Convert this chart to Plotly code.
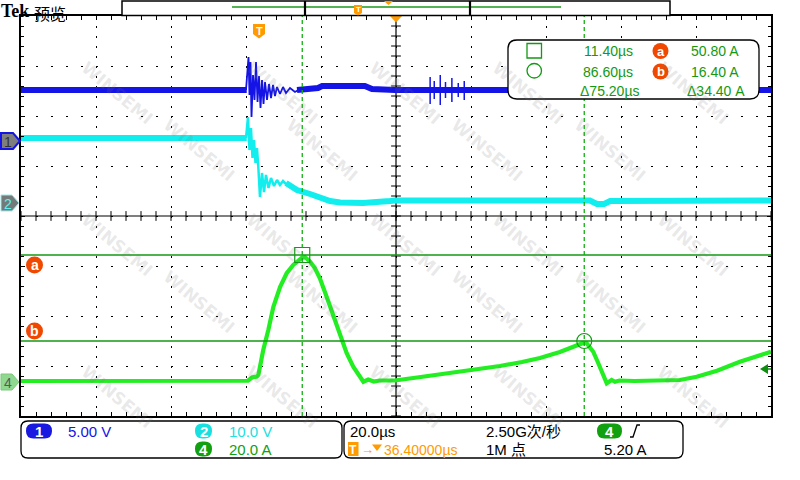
import plotly.graph_objects as go
import numpy as np

# ---------------- data ----------------
# time in µs relative to trigger; 20 µs/div, trigger-to-center 36.4 µs
T_LEFT, T_RIGHT = -63.6, 136.4

# CH4 current (A), 20 A/div
t_ch4 = [-63.6, -40, -20, -3.1, -2.0, -0.7, -0.3, 1.0, 2.35, 3.7, 5.5, 7.25, 9.0, 10.35, 11.25,
         12.1, 13.5, 14.8, 16.1, 17.9, 19.7, 21.5, 23.25, 25.0, 26.8, 27.7, 29.0, 30.5, 32.0,
         36.1, 43.0, 50.8, 57.0, 64.1, 70.0, 74.8, 80.1, 84.0, 86.3, 87.25, 89.0, 90.35, 91.7,
         92.6, 93.9, 94.8, 96.0, 100.0, 106.0, 112.1, 116.6, 122.0, 128.1, 132.0, 136.4]
i_ch4 = [0.4, 0.5, 0.4, 0.5, 1.8, 2.2, 2.8, 12.8, 20.8, 30.1, 38.1, 43.5, 46.8, 48.8, 49.6,
         50.0, 48.1, 45.5, 41.5, 34.1, 26.1, 18.1, 11.5, 6.1, 2.1, 0.1, 1.0, 0.2, 0.6,
         0.6, 2.0, 3.6, 5.0, 6.4, 8.0, 9.6, 12.0, 14.0, 15.6, 15.5, 12.1, 7.5, 2.1,
         -0.5, 0.8, 0.1, 0.6, 0.4, 0.6, 0.8, 2.1, 4.5, 8.1, 9.8, 12.1]

# CH1 voltage (V), 5 V/div — steady band and ringing detail
t_ch1_band = [-63.6, -3.4, None, 10.0, 15.6, 16.7, 28.1, 30.0, 36.1, 136.4]
v_ch1_band = [5.1, 5.1, None, 5.1, 5.3, 5.5, 5.5, 5.2, 5.1, 5.1]
t_ch1_ring = [-3.6, -3.2, -2.93, -2.67, -2.4, -2.13, -1.73, -1.33, -0.93, -0.53, -0.13, 0.27,
              0.67, 1.07, 1.47, 2.0, 2.53, 3.07, 3.6, 4.13, 4.67, 5.47, 6.27, 7.07, 8.13,
              9.47, 10.8]
v_ch1_ring = [5.1, 7.1, 8.4, 4.6, 7.9, 2.4, 6.6, 4.1, 7.9, 3.9, 6.5, 3.3,
              6.1, 3.7, 5.9, 4.1, 5.7, 4.3, 5.6, 4.5, 5.4, 4.7, 5.4, 4.8, 5.3,
              4.9, 5.2]
t_ch1_spike = [45.5, 46.6, 48.2, 49.6, 51.3, 53.0, 54.6]
v_ch1_spike_hi = [6.4, 6.0, 6.6, 5.9, 6.3, 5.8, 6.0]
v_ch1_spike_lo = [3.7, 4.2, 3.6, 4.3, 3.9, 4.4, 4.1]

# CH2 voltage (V), 10 V/div
t_ch2_band = [-63.6, -3.4, None, 7.07, 10.0, 13.5, 16.1, 18.8, 21.5, 27.6, 34.8, 36.1,
              88.1, 90.0, 91.9, 93.5, 136.4]
v_ch2_band = [13.0, 13.0, None, 4.0, 2.6, 1.8, 1.0, 0.4, 0.1, 0.0, 0.4, 0.5,
              0.5, -0.2, -0.2, 0.4, 0.5]
t_ch2_ring = [-3.6, -3.07, -2.67, -2.27, -1.87, -1.47, -1.07, -0.67, -0.27, 0.13, 0.67, 1.2,
              1.73, 2.4, 3.07, 3.87, 4.67, 5.47, 6.27, 7.07]
v_ch2_ring = [13.0, 17.2, 10.6, 15.0, 9.0, 12.6, 8.0, 11.0, 6.6, 1.2, 6.0, 2.2,
              5.6, 3.0, 5.0, 3.4, 4.6, 3.6, 4.4, 3.8]

# cursors
cursor_t = [11.40, 86.60]
cursor_i = [50.80, 16.40]

# readouts
readout_rows = [("11.40µs", "50.80 A"), ("86.60µs", "16.40 A")]
delta_t, delta_i = "Δ75.20µs", "Δ34.40 A"

# ---------------- colours ----------------
C1 = "#1414E6"
C2 = "#12EEEE"
C4 = "#22EE22"
CUR = "#139913"
CURV = "#10B010"
ORANGE = "#FF9A00"
RED = "#F04800"

# ---------------- geometry helpers (pixel -> paper) ----------------
L, R, TOP, BOT = 21, 771, 16, 416
W, H = R - L, BOT - TOP


def PX(x):
    return (x - L) / W


def PY(y):
    return (BOT - y) / H


def path(pts):
    s = "M" + " L".join(f"{PX(x):.5f},{PY(y):.5f}" for x, y in pts) + " Z"
    return s


def rrect(x0, y0, x1, y1, r):
    def p(x, y):
        return f"{PX(x):.5f},{PY(y):.5f}"
    return (f"M{p(x0 + r, y0)} L{p(x1 - r, y0)} Q{p(x1, y0)} {p(x1, y0 + r)} "
            f"L{p(x1, y1 - r)} Q{p(x1, y1)} {p(x1 - r, y1)} L{p(x0 + r, y1)} "
            f"Q{p(x0, y1)} {p(x0, y1 - r)} L{p(x0, y0 + r)} Q{p(x0, y0)} {p(x0 + r, y0)} Z")


fig = go.Figure()

# CH2
fig.add_trace(go.Scatter(x=t_ch2_band, y=v_ch2_band, mode="lines", yaxis="y3",
                         line=dict(color=C2, width=6), hoverinfo="skip"))
fig.add_trace(go.Scatter(x=t_ch2_ring, y=v_ch2_ring, mode="lines", yaxis="y3",
                         line=dict(color=C2, width=2.5), hoverinfo="skip"))
# CH1
fig.add_trace(go.Scatter(x=t_ch1_band, y=v_ch1_band, mode="lines", yaxis="y2",
                         line=dict(color=C1, width=6), hoverinfo="skip"))
fig.add_trace(go.Scatter(x=t_ch1_ring, y=v_ch1_ring, mode="lines", yaxis="y2",
                         line=dict(color=C1, width=1.8), hoverinfo="skip"))
sx, sy = [], []
for t, hi, lo in zip(t_ch1_spike, v_ch1_spike_hi, v_ch1_spike_lo):
    sx += [t, t, None]
    sy += [hi, lo, None]
fig.add_trace(go.Scatter(x=sx, y=sy, mode="lines", yaxis="y2",
                         line=dict(color=C1, width=1.5), hoverinfo="skip"))
# CH4
fig.add_trace(go.Scatter(x=t_ch4, y=i_ch4, mode="lines",
                         line=dict(color=C4, width=4.2), hoverinfo="skip"))

# graticule centre lines with ticks
xc = (T_LEFT + T_RIGHT) / 2
ylo, yhi = -13.6, 146.4
yc = (ylo + yhi) / 2
fig.add_trace(go.Scatter(x=np.arange(T_LEFT, T_RIGHT + 0.01, 4.0), y=[yc] * 51, mode="markers",
                         marker=dict(symbol="line-ns", size=7, line=dict(width=1, color="black")),
                         hoverinfo="skip"))
fig.add_trace(go.Scatter(x=[xc] * 41, y=np.arange(ylo, yhi + 0.01, 4.0), mode="markers",
                         marker=dict(symbol="line-ew", size=7, line=dict(width=1, color="black")),
                         hoverinfo="skip"))

# cursor markers
fig.add_trace(go.Scatter(x=[cursor_t[0]], y=[cursor_i[0]], mode="markers",
                         marker=dict(symbol="square-open", size=15, color=CUR, line=dict(width=1.2)),
                         hoverinfo="skip"))
fig.add_trace(go.Scatter(x=[cursor_t[1]], y=[cursor_i[1]], mode="markers",
                         marker=dict(symbol="circle-open", size=15, color=CUR, line=dict(width=1.2)),
                         hoverinfo="skip"))

shapes = []
# centre lines
shapes.append(dict(type="line", xref="x", yref="y", x0=xc, x1=xc, y0=ylo, y1=yhi,
                   line=dict(color="black", width=1.2), layer="below"))
shapes.append(dict(type="line", xref="x", yref="y", x0=T_LEFT, x1=T_RIGHT, y0=yc, y1=yc,
                   line=dict(color="black", width=1.2), layer="below"))
# cursors
for ci in cursor_i:
    shapes.append(dict(type="line", xref="x", yref="y", x0=T_LEFT, x1=T_RIGHT, y0=ci, y1=ci,
                       line=dict(color=CUR, width=1.3)))
for ct in cursor_t:
    shapes.append(dict(type="line", xref="x", yref="y", x0=ct, x1=ct, y0=ylo, y1=yhi,
                       line=dict(color=CURV, width=1.3, dash="4px,3px")))

annotations = []


def text(x, y, s, color="black", size=15, anchor="left", family="Liberation Sans, Arial",
         bold=False, yanchor="middle"):
    if bold:
        s = f"<b>{s}</b>"
    annotations.append(dict(x=PX(x), y=PY(y), xref="paper", yref="paper", text=s,
                            showarrow=False, xanchor=anchor, yanchor=yanchor, borderpad=0,
                            font=dict(color=color, size=size, family=family)))


# watermark (kept fully inside the picture)
for row in range(0, 5):
    for col in range(0, 5):
        cx = 75 + col * 165 + (row % 2) * 82
        cy = 55 + row * 95
        if 45 <= cx <= 755 and 40 <= cy <= 440:
            annotations.append(dict(x=PX(cx), y=PY(cy), xref="paper", yref="paper",
                                    text="<b>WINSEMI</b>", showarrow=False, textangle=40,
                                    font=dict(color="rgba(120,120,120,0.16)", size=17,
                                              family="DejaVu Sans")))

# cursor labels a / b on the left
for lab, cy in (("a", 265), ("b", 331)):
    shapes.append(dict(type="circle", xref="paper", yref="paper", x0=PX(26), x1=PX(43),
                       y0=PY(cy - 8.5), y1=PY(cy + 8.5), fillcolor=RED, line=dict(width=0)))
    text(34.5, cy, lab, "white", 14, "center", bold=True)

# channel markers on the left
shapes.append(dict(type="path", xref="paper", yref="paper",
                   path=path([(1, 133), (13, 133), (20, 141), (13, 149), (1, 149)]),
                   fillcolor="#7E7E7E", line=dict(color=C1, width=2)))
text(8, 141.5, "1", "#333333", 14, "center")
shapes.append(dict(type="path", xref="paper", yref="paper",
                   path=path([(1, 195), (12, 195), (19, 203), (12, 211), (1, 211)]),
                   fillcolor="#737A7A", line=dict(color="#9FE8E8", width=1)))
text(8, 203.5, "2", "#5FF0F0", 14, "center")
shapes.append(dict(type="path", xref="paper", yref="paper",
                   path=path([(1, 374), (12, 374), (19, 382), (12, 390), (1, 390)]),
                   fillcolor="#8FD88F", line=dict(color="#7CC87C", width=1)))
text(8, 382.5, "4", "#5A5A5A", 14, "center")

# trigger level arrow (right)
shapes.append(dict(type="path", xref="paper", yref="paper",
                   path=path([(760, 369), (768, 364), (768, 374)]),
                   fillcolor="#0E8E0E", line=dict(width=0)))
shapes.append(dict(type="line", xref="paper", yref="paper", x0=PX(767), x1=PX(771),
                   y0=PY(369), y1=PY(369), line=dict(color="#0E8E0E", width=1.5)))

# trigger T marker and top triangle
shapes.append(dict(type="path", xref="paper", yref="paper",
                   path=path([(253, 24), (265, 24), (265, 34), (259, 38.5), (253, 34)]),
                   fillcolor=ORANGE, line=dict(width=0)))
text(259, 30.5, "T", "white", 11, "center", bold=True)
shapes.append(dict(type="path", xref="paper", yref="paper",
                   path=path([(390, 16), (402, 16), (396, 22.5)]),
                   fillcolor=ORANGE, line=dict(width=0)))

# top bar
text(0, 0, "Tek", "black", 18, "left", "Liberation Serif", bold=True, yanchor="top")
text(33, 0, "预览", "black", 16, "left", "Noto Sans CJK SC", yanchor="top")
shapes.append(dict(type="rect", xref="paper", yref="paper", x0=PX(122), x1=PX(670),
                   y0=PY(1), y1=PY(15.5), line=dict(color="black", width=1.5),
                   fillcolor="white"))
shapes.append(dict(type="line", xref="paper", yref="paper", x0=PX(232), x1=PX(561),
                   y0=PY(7), y1=PY(7), line=dict(color="#1A9A1A", width=1.3)))
for bx in (305, 470):
    shapes.append(dict(type="line", xref="paper", yref="paper", x0=PX(bx), x1=PX(bx),
                       y0=PY(1), y1=PY(15.5), line=dict(color="black", width=2.2)))
shapes.append(dict(type="path", xref="paper", yref="paper",
                   path=path([(354, 5), (362, 5), (362, 13), (358, 15.5), (354, 13)]),
                   fillcolor=ORANGE, line=dict(width=0)))
text(358, 9.5, "T", "white", 8, "center", bold=True)
shapes.append(dict(type="path", xref="paper", yref="paper",
                   path=path([(384, 1), (393, 1), (388.5, 5)]),
                   fillcolor=ORANGE, line=dict(width=0)))

# readout box
shapes.append(dict(type="path", xref="paper", yref="paper", path=rrect(508, 40, 759, 99, 9),
                   fillcolor="white", line=dict(color="black", width=1.3)))
shapes.append(dict(type="rect", xref="paper", yref="paper", x0=PX(527), x1=PX(541.5),
                   y0=PY(43.5), y1=PY(58), line=dict(color=CUR, width=1.3)))
shapes.append(dict(type="circle", xref="paper", yref="paper", x0=PX(527), x1=PX(541.5),
                   y0=PY(63.5), y1=PY(78), line=dict(color=CUR, width=1.3)))
for (ts, isv), cy, lab in zip(readout_rows, (51, 71.5), ("a", "b")):
    text(633.5, cy, ts, CUR, 14, "right")
    text(740, cy, isv, CUR, 14, "right")
    shapes.append(dict(type="circle", xref="paper", yref="paper", x0=PX(652.5), x1=PX(668.5),
                       y0=PY(cy - 8), y1=PY(cy + 8), fillcolor=RED, line=dict(width=0)))
    text(660.5, cy, lab, "white", 13, "center", bold=True)
text(639.5, 90.5, delta_t, CUR, 14, "right")
text(745.5, 90.5, delta_i, CUR, 14, "right")

# bottom status boxes
shapes.append(dict(type="path", xref="paper", yref="paper", path=rrect(21, 421, 342, 458, 7),
                   fillcolor="white", line=dict(color="black", width=1.3)))
shapes.append(dict(type="path", xref="paper", yref="paper", path=rrect(344, 421, 683, 458, 7),
                   fillcolor="white", line=dict(color="black", width=1.3)))


def pill(x0, x1, yc, color, label):
    shapes.append(dict(type="path", xref="paper", yref="paper",
                       path=rrect(x0, yc - 7.5, x1, yc + 7.5, 7.4), fillcolor=color,
                       line=dict(width=0)))
    text((x0 + x1) / 2, yc + 0.5, label, "white", 15, "center", bold=True)


pill(26, 52, 431, "#1818E0", "1")
text(67, 431, "5.00 V", C1, 15)
pill(195, 212, 431, "#18E0E0", "2")
text(228, 431, "10.0 V", "#20E0E0", 15)
pill(195, 212, 449, "#10A010", "4")
text(228, 449, "20.0 A", "#10A010", 15)

text(349, 431, "20.0µs", "black", 15)
shapes.append(dict(type="rect", xref="paper", yref="paper", x0=PX(348), x1=PX(358.5),
                   y0=PY(442), y1=PY(456), fillcolor=ORANGE, line=dict(width=0)))
text(353.2, 449.5, "T", "white", 12, "center", bold=True)
text(359.5, 449, "→", ORANGE, 13)
shapes.append(dict(type="path", xref="paper", yref="paper",
                   path=path([(372, 444.5), (382, 444.5), (377, 451)]),
                   fillcolor=ORANGE, line=dict(width=0)))
text(382.5, 449.5, "36.40000µs", ORANGE, 14)
text(485, 431, "2.50G次/秒", "black", 15, family="Liberation Sans, Noto Sans CJK SC")
text(485, 449, "1M 点", "black", 15, family="Liberation Sans, Noto Sans CJK SC")
pill(597, 622, 431, "#10A010", "4")
shapes.append(dict(type="path", xref="paper", yref="paper",
                   path=f"M{PX(630):.5f},{PY(437):.5f} L{PX(633):.5f},{PY(437):.5f} "
                        f"L{PX(637):.5f},{PY(425):.5f} L{PX(640):.5f},{PY(425):.5f}",
                   line=dict(color="black", width=1.3)))
text(603, 449, "5.20 A", "black", 15)

fig.update_layout(
    width=800, height=480,
    margin=dict(l=L, r=800 - R, t=TOP, b=480 - BOT, pad=0),
    paper_bgcolor="white", plot_bgcolor="white",
    showlegend=False,
    xaxis=dict(range=[T_LEFT, T_RIGHT], tick0=T_LEFT, dtick=20, showticklabels=False,
               showgrid=True, gridcolor="black", gridwidth=1.3, griddash="1.5px,8.5px",
               zeroline=False, showline=True, linecolor="black", linewidth=2, mirror="allticks",
               ticks="inside", ticklen=4, tickcolor="black", tickwidth=1,
               minor=dict(dtick=4, tick0=T_LEFT, ticks="inside", ticklen=3, tickcolor="black",
                          tickwidth=1, showgrid=False)),
    yaxis=dict(range=[ylo, yhi], tick0=ylo, dtick=20, showticklabels=False,
               showgrid=True, gridcolor="black", gridwidth=1.3, griddash="1.5px,13.5px",
               zeroline=False, showline=True, linecolor="black", linewidth=2, mirror="allticks",
               ticks="inside", ticklen=4, tickcolor="black", tickwidth=1,
               minor=dict(dtick=4, tick0=ylo, ticks="inside", ticklen=3, tickcolor="black",
                          tickwidth=1, showgrid=False)),
    yaxis2=dict(range=[-27.5, 12.5], overlaying="y", visible=False),
    yaxis3=dict(range=[-42.6, 37.4], overlaying="y", visible=False),
    shapes=shapes,
    annotations=annotations,
)

fig.write_html("out.html")
